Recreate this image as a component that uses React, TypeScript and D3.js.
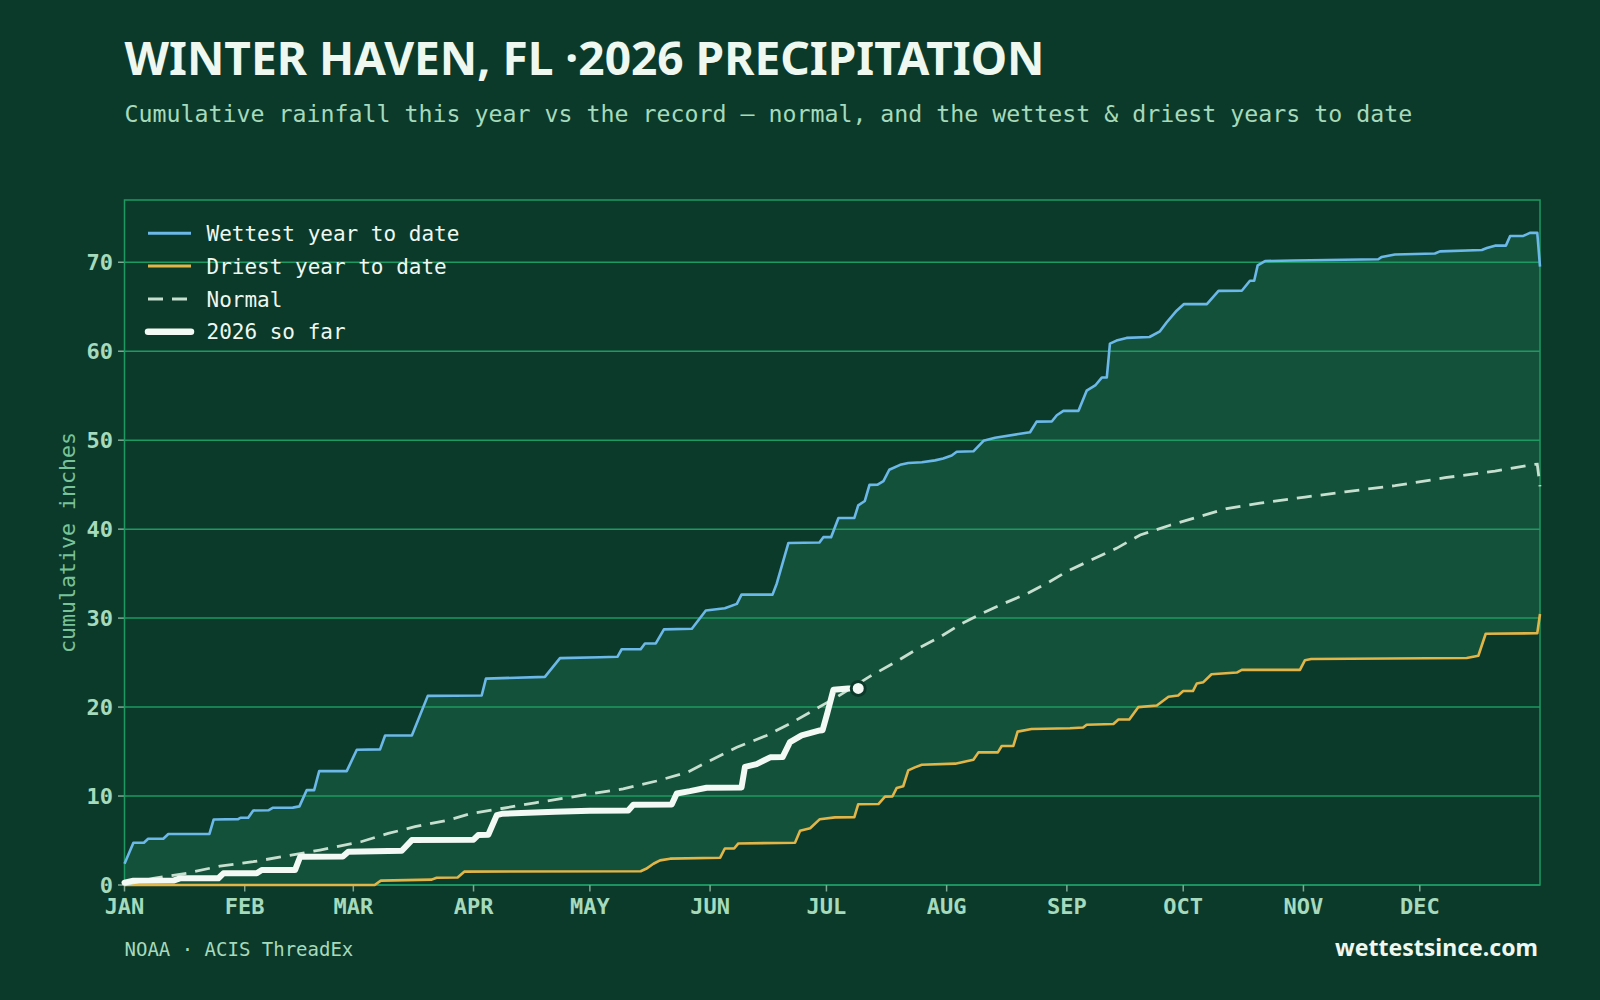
import React from "react";
import * as d3 from "d3";

type Pt = [number, number]; // [day of year, cumulative inches]

const MONTH_LABELS = ["JAN", "FEB", "MAR", "APR", "MAY", "JUN", "JUL", "AUG", "SEP", "OCT", "NOV", "DEC"];
const MONTH_START_DAY = [0, 31, 59, 90, 120, 151, 181, 212, 243, 273, 304, 334];
const Y_TICKS = [0, 10, 20, 30, 40, 50, 60, 70];

const WETTEST_YEAR: Pt[] = [
  [0, 2.4], [2.3, 4.75], [5, 4.75], [6.1, 5.2], [10, 5.2], [11.3, 5.73], [21.9, 5.75], [23, 7.37],
  [29.3, 7.4], [29.9, 7.56], [31.9, 7.56], [33.2, 8.38], [37.1, 8.4], [38.2, 8.68], [43.4, 8.7],
  [45.1, 8.84], [47, 10.67], [48.9, 10.67], [50.2, 12.8], [57.3, 12.8], [59.9, 15.2], [65.9, 15.25],
  [67.2, 16.8], [74.1, 16.8], [78.2, 21.26], [92.1, 21.3], [93.2, 23.2], [108.4, 23.4], [112.3, 25.5],
  [122.6, 25.6], [127.1, 25.65], [128.2, 26.5], [133.1, 26.5], [134.2, 27.14], [137, 27.15],
  [139.1, 28.73], [146.3, 28.8], [149.9, 30.86], [154.8, 31.1], [157.9, 31.6], [159.1, 32.64],
  [167.1, 32.64], [168.2, 33.9], [171.2, 38.45], [179.2, 38.5], [180.2, 39.1], [182.2, 39.1],
  [184.1, 41.26], [188.2, 41.26], [189.2, 42.67], [190.9, 43.17], [192.1, 44.98], [194.2, 45.0],
  [195.7, 45.4], [197.2, 46.68], [200, 47.23], [202.1, 47.44], [205.6, 47.52], [209, 47.73],
  [211.1, 47.94], [213.3, 48.28], [214.6, 48.7], [218.9, 48.75], [221.5, 49.93], [224.5, 50.27],
  [230.5, 50.69], [233.5, 50.9], [235.2, 52.09], [239.1, 52.1], [240.4, 52.8], [242.1, 53.3],
  [246, 53.3], [248.1, 55.57], [250.3, 56.15], [252, 57.04], [253.3, 57.05], [254.1, 60.86],
  [255.8, 61.2], [258.4, 61.5], [264.3, 61.6], [267, 62.24], [268.7, 63.23], [271.3, 64.56],
  [273.2, 65.3], [279.1, 65.3], [282.1, 66.79], [288.1, 66.8], [290.2, 67.92], [291.3, 67.92],
  [292.2, 69.65], [294.1, 70.14], [301.4, 70.2], [323.3, 70.34], [324.2, 70.6], [327.6, 70.88],
  [337.9, 70.98], [339.2, 71.23], [350, 71.38], [351.3, 71.6], [353.4, 71.87], [356.2, 71.87],
  [357.3, 72.96], [360.7, 72.96], [362.4, 73.31], [364.3, 73.31], [365, 69.5],
];

const DRIEST_YEAR: Pt[] = [
  [0, 0], [64.5, 0], [66.1, 0.49], [79.2, 0.6], [80.5, 0.82], [85.9, 0.85], [87.6, 1.5],
  [133.1, 1.55], [134.5, 1.82], [136.4, 2.39], [138.1, 2.77], [140.7, 2.96], [153.6, 3.07],
  [154.8, 4.1], [157.2, 4.1], [158.3, 4.67], [172.9, 4.75], [174.2, 6.1], [176.8, 6.38],
  [179.3, 7.4], [183.2, 7.6], [188.2, 7.62], [189.2, 9.08], [194.4, 9.1], [196.1, 9.93],
  [198, 9.95], [199.1, 10.89], [200.8, 11.1], [202.1, 12.88], [203.8, 13.22], [205.6, 13.52],
  [214.2, 13.64], [218.9, 14.07], [220.2, 14.91], [225.2, 14.91], [226.2, 15.63], [229.2, 15.63],
  [230.3, 17.24], [233.9, 17.53], [243.8, 17.62], [247.2, 17.71], [248.1, 18.01], [255, 18.1],
  [256.3, 18.6], [259.1, 18.6], [261.4, 19.99], [266.2, 20.18], [269.2, 21.17], [271.7, 21.3],
  [273, 21.8], [275.5, 21.8], [276.5, 22.65], [278.2, 22.8], [280.3, 23.69], [286.8, 23.88],
  [288.1, 24.18], [303.1, 24.18], [304.4, 25.27], [306, 25.4], [346.1, 25.52], [349.1, 25.77],
  [351, 28.24], [364.3, 28.3], [365, 30.46],
];

const NORMAL: Pt[] = [
  [0, 0], [7.4, 0.75], [16, 1.31], [24.6, 2.13], [33.2, 2.62], [41.8, 3.26], [50.4, 3.93],
  [61, 4.86], [68, 5.8], [74.9, 6.55], [83.5, 7.3], [89.5, 8.05], [97.3, 8.6], [105.9, 9.24],
  [121, 10.29], [128.6, 10.81], [137.2, 11.69], [145, 12.64], [150.1, 13.78], [157.9, 15.48],
  [165.6, 16.81], [171.6, 18.14], [178.5, 19.85], [183.2, 21.0], [192.2, 23.45], [199.1, 25.13],
  [204.7, 26.61], [210.3, 27.88], [215.7, 29.35], [221.2, 30.54], [226.7, 31.64], [232.6, 32.73],
  [238.2, 34.0], [243.1, 35.27], [249.8, 36.64], [255.9, 37.87], [261.9, 39.35], [269.6, 40.44],
  [277.3, 41.43], [284.2, 42.32], [292.8, 42.92], [304.4, 43.6], [314.7, 44.2], [327.6, 44.89],
  [340.5, 45.78], [353.4, 46.52], [363.3, 47.26], [364.3, 47.3], [365, 44.8],
];

const YEAR_2026: Pt[] = [
  [0, 0.26], [2.3, 0.49], [12.6, 0.5], [14.3, 0.75], [24.2, 0.76], [25.5, 1.31], [34.1, 1.32],
  [35.4, 1.68], [44, 1.7], [45.3, 3.18], [56.3, 3.2], [57.7, 3.74], [71.5, 3.85], [74.1, 5.05],
  [90, 5.1], [91.2, 5.61], [93.8, 5.65], [96, 7.86], [97.3, 8.0], [111, 8.23], [120, 8.35],
  [129.9, 8.38], [131.2, 9.03], [141.1, 9.05], [142.4, 10.29], [145.8, 10.55], [150.1, 10.93],
  [159.1, 10.95], [160, 13.28], [163, 13.59], [166.5, 14.35], [169.7, 14.38], [171.6, 16.06],
  [174.6, 16.81], [179.3, 17.38], [180, 17.4], [181.2, 19.28], [182.8, 21.94], [186.6, 22.1],
  [189.2, 22.1],
];

const LEGEND_ITEMS = [
  { label: "Wettest year to date", key: "wet" },
  { label: "Driest year to date", key: "dry" },
  { label: "Normal", key: "normal" },
  { label: "2026 so far", key: "now" },
];

const C = {
  bg: "#0c3a2a",
  band: "#14513b",
  grid: "#1c9a62",
  tickText: "#a6dabd",
  axisTitle: "#79c39b",
  wet: "#6cb8e8",
  dry: "#e2b548",
  normal: "#c6dfcf",
  now: "#f3faf5",
  title: "#eef8f1",
};

const MONO = "'DejaVu Sans Mono', monospace";
const SANS = "'Noto Sans', 'Open Sans', sans-serif";

const PLOT = { left: 124.5, right: 1540, top: 200, bottom: 885 };

export default function App() {
  const x = d3.scaleLinear().domain([0, 365]).range([PLOT.left, PLOT.right]);
  const y = d3.scaleLinear().domain([0, 77]).range([PLOT.bottom, PLOT.top]);
  const line = d3.line<Pt>().x((d) => x(d[0])).y((d) => y(d[1]));

  const bandPath = line([...WETTEST_YEAR, ...DRIEST_YEAR.slice().reverse()]) + "Z";
  const last = YEAR_2026[YEAR_2026.length - 1];

  const legendStyle: Record<string, any> = {
    wet: { stroke: C.wet, strokeWidth: 3 },
    dry: { stroke: C.dry, strokeWidth: 3 },
    normal: { stroke: C.normal, strokeWidth: 3, strokeDasharray: "15 9" },
    now: { stroke: C.now, strokeWidth: 6.5, strokeLinecap: "round" },
  };

  return (
    <svg
      width={1600}
      height={1000}
      style={{ position: "absolute", left: 0, top: 0, display: "block" }}
    >
      <rect x={0} y={0} width={1600} height={1000} fill={C.bg} />

      {/* heading */}
      <text
        x={124.5}
        y={75}
        fill={C.title}
        fontFamily={SANS}
        fontWeight={700}
        fontSize={46}
        textLength={920}
        lengthAdjust="spacingAndGlyphs"
      >
        WINTER HAVEN, FL ·2026 PRECIPITATION
      </text>
      <text x={124.5} y={122} fill={C.tickText} fontFamily={MONO} fontSize={23.25}>
        Cumulative rainfall this year vs the record — normal, and the wettest &amp; driest years to date
      </text>

      {/* record band between the driest and wettest years */}
      <path d={bandPath} fill={C.band} />

      {/* horizontal grid */}
      {Y_TICKS.map((t) => (
        <g key={t}>
          <line x1={PLOT.left} x2={PLOT.right} y1={y(t)} y2={y(t)} stroke={C.grid} strokeWidth={1.5} />
          <line x1={PLOT.left - 6.5} x2={PLOT.left} y1={y(t)} y2={y(t)} stroke="#7fa894" strokeWidth={1.5} />
          <text
            x={113}
            y={y(t)}
            dy="0.36em"
            textAnchor="end"
            fill={C.tickText}
            fontFamily={MONO}
            fontWeight={700}
            fontSize={22}
          >
            {t}
          </text>
        </g>
      ))}

      {/* plot frame */}
      <rect
        x={PLOT.left}
        y={PLOT.top}
        width={PLOT.right - PLOT.left}
        height={PLOT.bottom - PLOT.top}
        fill="none"
        stroke={C.grid}
        strokeWidth={1.5}
      />

      {/* month axis */}
      {MONTH_START_DAY.map((d, i) => (
        <g key={MONTH_LABELS[i]}>
          <line x1={x(d)} x2={x(d)} y1={PLOT.bottom} y2={PLOT.bottom + 6.5} stroke="#7fa894" strokeWidth={1.5} />
          <text
            x={x(d)}
            y={914}
            textAnchor="middle"
            fill={C.tickText}
            fontFamily={MONO}
            fontWeight={700}
            fontSize={22}
          >
            {MONTH_LABELS[i]}
          </text>
        </g>
      ))}

      <text
        transform={`translate(75, ${(PLOT.top + PLOT.bottom) / 2}) rotate(-90)`}
        textAnchor="middle"
        fill={C.axisTitle}
        fontFamily={MONO}
        fontSize={21.6}
      >
        cumulative inches
      </text>

      {/* series */}
      <path d={line(WETTEST_YEAR) ?? ""} fill="none" stroke={C.wet} strokeWidth={2.6} strokeLinejoin="round" />
      <path d={line(DRIEST_YEAR) ?? ""} fill="none" stroke={C.dry} strokeWidth={2.6} strokeLinejoin="round" />
      <path
        d={line(NORMAL) ?? ""}
        fill="none"
        stroke={C.normal}
        strokeWidth={2.8}
        strokeDasharray="15 9"
      />
      <path
        d={line(YEAR_2026) ?? ""}
        fill="none"
        stroke={C.now}
        strokeWidth={6}
        strokeLinejoin="round"
        strokeLinecap="round"
      />
      <circle cx={x(last[0])} cy={y(last[1])} r={7} fill={C.now} stroke={C.bg} strokeWidth={3} />

      {/* legend */}
      {LEGEND_ITEMS.map((item, i) => {
        const ly = 233.3 + i * 32.8;
        return (
          <g key={item.key}>
            <line x1={148} x2={191} y1={ly} y2={ly} {...legendStyle[item.key]} />
            <text x={206.5} y={ly + 7.6} fill={C.title} fontFamily={MONO} fontSize={21}>
              {item.label}
            </text>
          </g>
        );
      })}

      {/* footer */}
      <text x={124.5} y={956} fill={C.tickText} fontFamily={MONO} fontSize={19}>
        NOAA · ACIS ThreadEx
      </text>
      <text
        x={1538}
        y={956}
        textAnchor="end"
        fill={C.title}
        fontFamily={SANS}
        fontWeight={700}
        fontSize={23}
        textLength={203}
        lengthAdjust="spacingAndGlyphs"
      >
        wettestsince.com
      </text>
    </svg>
  );
}
